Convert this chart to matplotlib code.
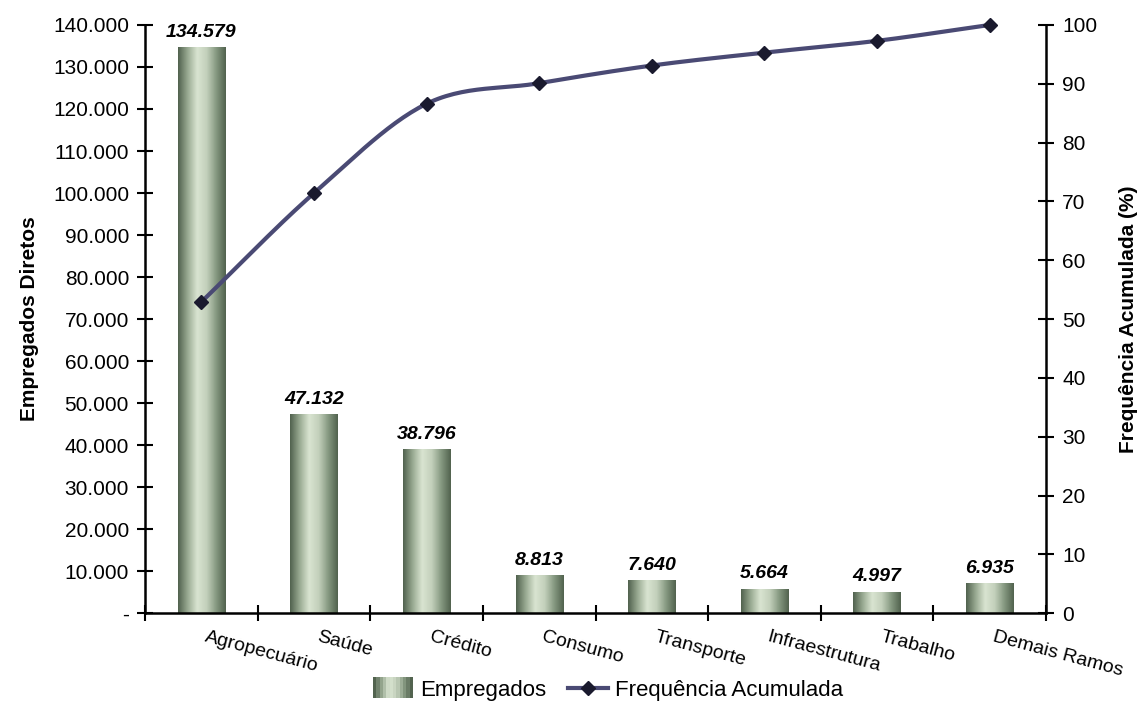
import numpy as np
import matplotlib
matplotlib.use("Agg")
import matplotlib.pyplot as plt
from matplotlib.colors import LinearSegmentedColormap
from matplotlib.lines import Line2D
from matplotlib.patches import Rectangle
from matplotlib.legend_handler import HandlerBase

plt.rcParams['font.family'] = ['Liberation Sans', 'DejaVu Sans']

# data
categories = ['Agropecuário', 'Saúde', 'Crédito', 'Consumo', 'Transporte',
              'Infraestrutura', 'Trabalho', 'Demais Ramos']
empregados = [134579, 47132, 38796, 8813, 7640, 5664, 4997, 6935]
freq_acum = [52.9, 71.4, 86.6, 90.1, 93.1, 95.3, 97.3, 100.0]

bar_cmap = LinearSegmentedColormap.from_list(
    'cyl', ['#52634f', '#9aab93', '#d9e4d1', '#c3d0bb', '#879a82', '#52634f'])
line_color = '#4a4a74'


def fmt_br(v):
    return f'{v:,.0f}'.replace(',', '.')


def smooth(xs, ys, n=30):
    # catmull-rom curve through the points, like the excel "smoothed line"
    px = np.concatenate([[2 * xs[0] - xs[1]], xs, [2 * xs[-1] - xs[-2]]])
    py = np.concatenate([[2 * ys[0] - ys[1]], ys, [2 * ys[-1] - ys[-2]]])
    outx, outy = [], []
    t = np.linspace(0, 1, n)
    for i in range(1, len(px) - 2):
        for p, out in ((px, outx), (py, outy)):
            p0, p1, p2, p3 = p[i - 1], p[i], p[i + 1], p[i + 2]
            out.extend(0.5 * (2 * p1 + (-p0 + p2) * t
                              + (2 * p0 - 5 * p1 + 4 * p2 - p3) * t ** 2
                              + (-p0 + 3 * p1 - 3 * p2 + p3) * t ** 3))
    return np.array(outx), np.array(outy)


class GradientHandler(HandlerBase):
    def create_artists(self, legend, orig_handle, xdescent, ydescent,
                       width, height, fontsize, trans):
        n = 12
        arts = []
        for i in range(n):
            r = Rectangle((xdescent + i * width / n, ydescent - 2), width / n, height + 4,
                          facecolor=bar_cmap(i / (n - 1)), edgecolor='none', transform=trans)
            arts.append(r)
        return arts


fig = plt.figure(figsize=(11.47, 7.13), dpi=100)
ax = fig.add_axes([0.1264, 0.140, 0.7856, 0.825])
x = np.arange(len(categories))

bars = ax.bar(x, empregados, width=0.42, color='none', edgecolor='none', zorder=2)
grad = np.linspace(0, 1, 64).reshape(1, -1)
for b, v in zip(bars, empregados):
    x0, w = b.get_x(), b.get_width()
    ax.imshow(grad, extent=[x0, x0 + w, 0, b.get_height()], aspect='auto',
              cmap=bar_cmap, zorder=2, interpolation='bilinear')
    ax.annotate(fmt_br(v), (b.get_x() + w / 2, v), xytext=(0, 5),
                textcoords='offset points', ha='center', va='bottom',
                fontsize=14, fontweight='bold', fontstyle='italic')

ax.set_xlim(-0.5, len(categories) - 0.5)
ax.set_ylim(0, 140000)
ax.set_yticks(np.arange(0, 140001, 10000))
ax.set_yticklabels(['-' if v == 0 else fmt_br(v) for v in np.arange(0, 140001, 10000)])
ax.set_ylabel('Empregados Diretos', fontsize=15, fontweight='bold', labelpad=10)

ax.set_xticks(np.arange(-0.5, len(categories)), minor=False)
ax.set_xticklabels([])
ax.set_xticks(x + 0.05, minor=True)
ax.set_xticklabels(categories, minor=True, rotation=-15, ha='left', va='top',
                   rotation_mode='anchor', fontsize=14)
ax.tick_params(axis='x', which='minor', length=0, pad=11)
ax.tick_params(axis='x', which='major', direction='inout', length=12, width=1.5)
ax.tick_params(axis='y', direction='inout', length=11, width=1.5, labelsize=15, pad=6)

for s in ['top', 'right']:
    ax.spines[s].set_visible(False)
for s in ['left', 'bottom']:
    ax.spines[s].set_linewidth(1.8)

ax2 = ax.twinx()
ax2.set_ylim(0, 100)
ax2.set_yticks(np.arange(0, 101, 10))
ax2.tick_params(axis='y', direction='inout', length=11, width=1.5, labelsize=15, pad=6)
ax2.set_ylabel('Frequência Acumulada (%)', fontsize=15, fontweight='bold', labelpad=16)
for s in ['top', 'left', 'bottom']:
    ax2.spines[s].set_visible(False)
ax2.spines['right'].set_linewidth(1.8)

sx, sy = smooth(x.astype(float), np.array(freq_acum))
ax2.plot(sx, sy, color=line_color, lw=3, zorder=3, solid_capstyle='round', clip_on=False)
ax2.plot(x, freq_acum, ls='none', marker='D', ms=7, color='#1a1a2e', zorder=4, clip_on=False)

h_bar = Rectangle((0, 0), 1, 1)
h_line = Line2D([], [], color=line_color, lw=3, marker='D', ms=7,
                markerfacecolor='#1a1a2e', markeredgecolor='#1a1a2e')
fig.legend([h_bar, h_line], ['Empregados', 'Frequência Acumulada'],
           handler_map={Rectangle: GradientHandler()},
           loc='center', bbox_to_anchor=(0.53, 0.032), ncol=2, frameon=False,
           fontsize=16, handlelength=1.8, handletextpad=0.3, columnspacing=1.0)

fig.savefig('out.png', dpi=100)
